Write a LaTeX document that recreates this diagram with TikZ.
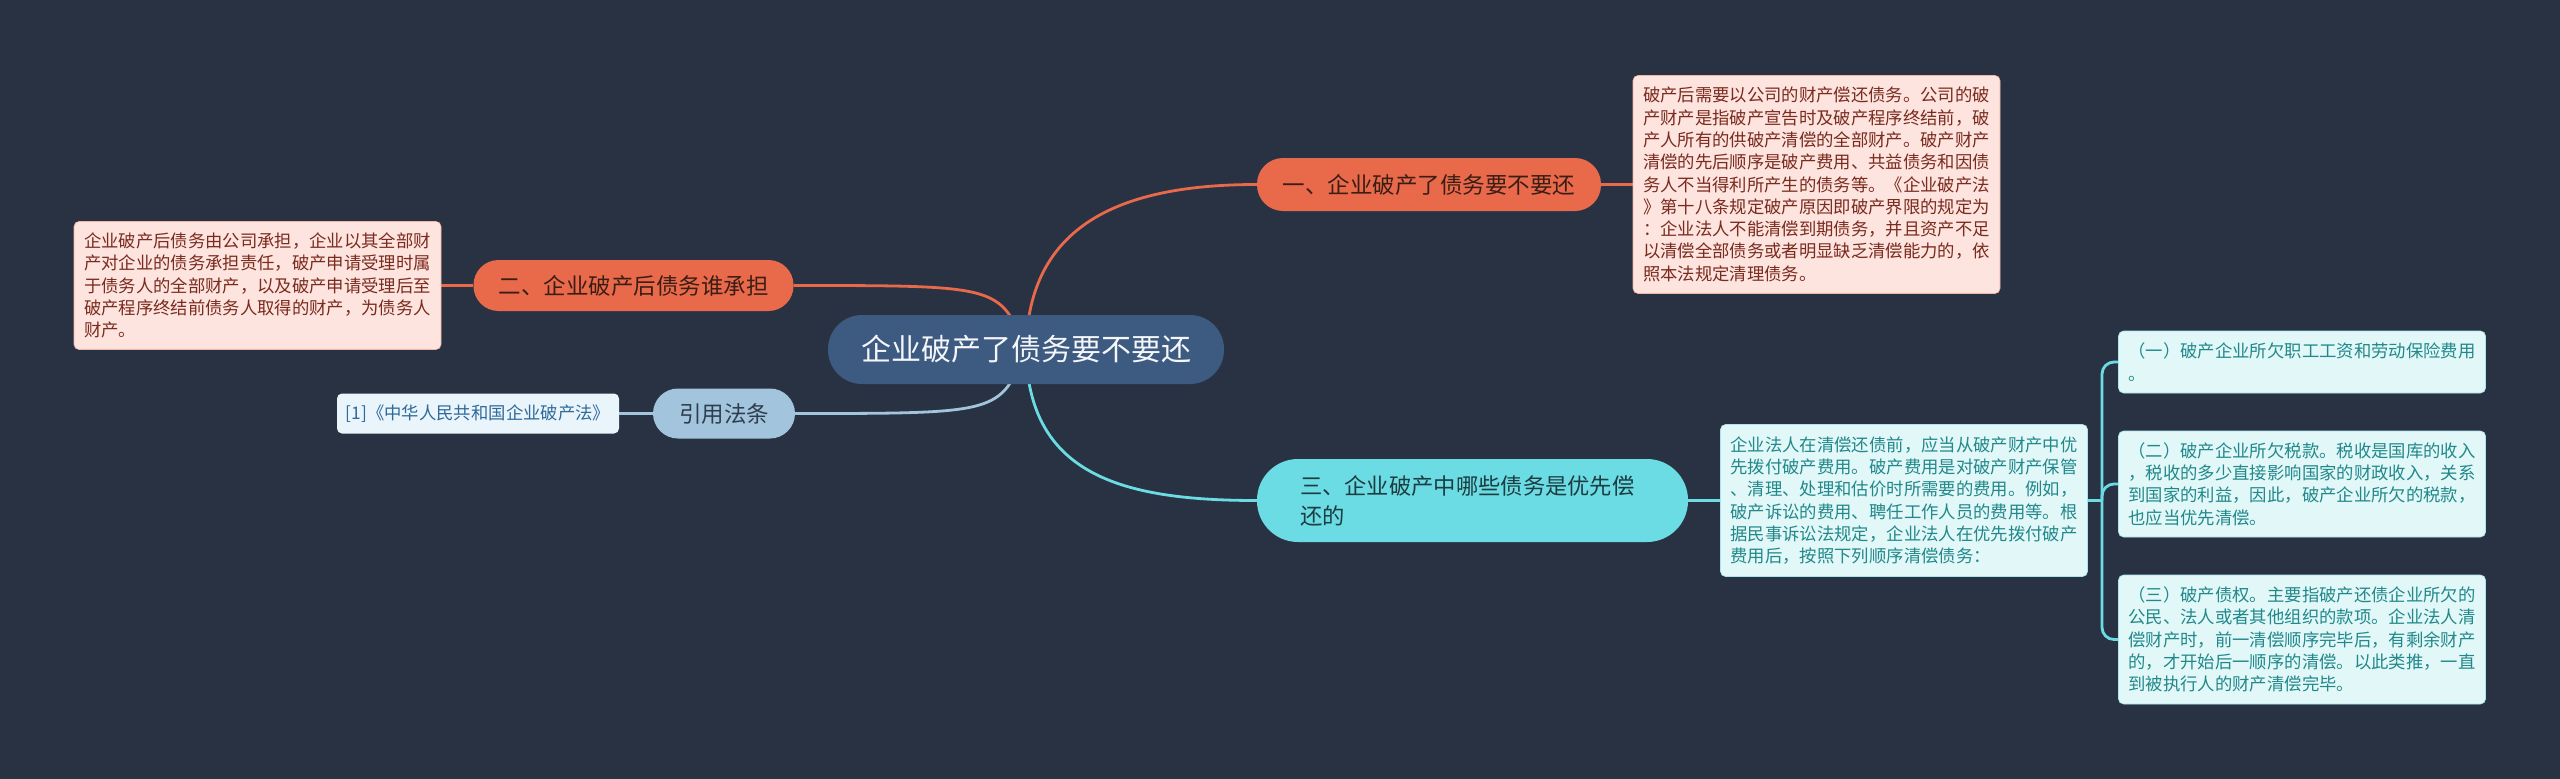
\documentclass[tikz,border=0pt]{standalone}
\usepackage{fontspec}
\setmainfont{Noto Sans CJK SC}
\usetikzlibrary{calc}
\definecolor{bgc}{HTML}{283243}
\definecolor{rootfill}{HTML}{3D5A80}
\definecolor{roottext}{HTML}{F4F6F9}
\definecolor{orangec}{HTML}{E9694B}
\definecolor{orangetext}{HTML}{3A1D14}
\definecolor{pinkfill}{HTML}{FDE4DE}
\definecolor{pinkdraw}{HTML}{F2B4A4}
\definecolor{pinktext}{HTML}{7A2A1E}
\definecolor{cyanc}{HTML}{6BDCE3}
\definecolor{cyantext}{HTML}{1C3D42}
\definecolor{lcyanfill}{HTML}{E1F7F8}
\definecolor{lcyandraw}{HTML}{A8E6EA}
\definecolor{lcyantext}{HTML}{22888A}
\definecolor{refc}{HTML}{A3C4DD}
\definecolor{reftext}{HTML}{2F3E4E}
\definecolor{refboxfill}{HTML}{EAF4FB}
\definecolor{refboxtext}{HTML}{2D6A9A}
\pgfdeclarelayer{bglayer}
\pgfdeclarelayer{edgelayer}
\pgfsetlayers{bglayer,edgelayer,main}
\begin{document}
\begin{tikzpicture}[x=1pt,y=-1pt,
  pill/.style={anchor=center, inner sep=0pt, align=center},
  boxtext/.style={font=\fontsize{17.35}{22.3}\selectfont},
  box/.style={boxtext, rounded corners=5pt, inner xsep=10pt, inner ysep=0pt,
    text width=347pt, align=left, anchor=center, line width=0.6pt},
  pinkbox/.style={box, fill=pinkfill, draw=pinkdraw, text=pinktext},
  cyanbox/.style={box, fill=lcyanfill, draw=lcyandraw, text=lcyantext},
  orangeedge/.style={draw=orangec, line width=2.8pt},
  cyanedge/.style={draw=cyanc, line width=2.8pt},
  refedge/.style={draw=refc, line width=2.8pt},
]
\useasboundingbox (0,0) rectangle (2560,779);
\begin{pgfonlayer}{bglayer}
\fill[bgc] (0,0) rectangle (2560,779);
\end{pgfonlayer}

% root
\node[pill, fill=rootfill, text=roottext, rounded corners=34pt,
  minimum width=396pt, minimum height=69pt,
  font=\fontsize{30}{36}\selectfont] (root) at (1026,349.5) {企业破产了债务要不要还};

% branch nodes
\node[pill, fill=orangec, text=orangetext, rounded corners=26pt,
  minimum width=344pt, minimum height=53pt,
  font=\fontsize{22.5}{27}\selectfont] (b1) at (1429,184.5) {一、企业破产了债务要不要还};
\node[pill, fill=orangec, text=orangetext, rounded corners=25pt,
  minimum width=320pt, minimum height=51pt,
  font=\fontsize{22.5}{27}\selectfont] (b2) at (633.5,285.5) {二、企业破产后债务谁承担};
\node[pill, fill=refc, text=reftext, rounded corners=25pt,
  minimum width=142pt, minimum height=50pt,
  font=\fontsize{22.5}{27}\selectfont] (ref) at (724,413.5) {引用法条};
\node[anchor=center, fill=cyanc, text=cyantext, rounded corners=41pt,
  minimum width=431pt, minimum height=83pt, inner xsep=43pt, inner ysep=0pt,
  text width=345pt, align=left,
  font=\fontsize{22.3}{30}\selectfont] (b3) at (1472.5,500.5) {三、企业破产中哪些债务是优先偿\\还的};

% text boxes
\node[pinkbox, minimum height=218pt] (box1) at (1816.5,184.5) {破产后需要以公司的财产偿还债务。公司的破\\产财产是指破产宣告时及破产程序终结前，破\\产人所有的供破产清偿的全部财产。破产财产\\清偿的先后顺序是破产费用、共益债务和因债\\务人不当得利所产生的债务等。《企业破产法\\》第十八条规定破产原因即破产界限的规定为\\：企业法人不能清偿到期债务，并且资产不足\\以清偿全部债务或者明显缺乏清偿能力的，依\\照本法规定清理债务。};
\node[pinkbox, minimum height=128pt] (box2) at (257.5,285.5) {企业破产后债务由公司承担，企业以其全部财\\产对企业的债务承担责任，破产申请受理时属\\于债务人的全部财产，以及破产申请受理后至\\破产程序终结前债务人取得的财产，为债务人\\财产。};
\node[boxtext, anchor=center, fill=refboxfill, text=refboxtext, rounded corners=5pt,
  minimum width=282pt, minimum height=40pt, inner sep=0pt] (refbox) at (478,413.5) {[1]《中华人民共和国企业破产法》};
\node[cyanbox, minimum height=152pt] (box3) at (1904,500.5) {企业法人在清偿还债前，应当从破产财产中优\\先拨付破产费用。破产费用是对破产财产保管\\、清理、处理和估价时所需要的费用。例如，\\破产诉讼的费用、聘任工作人员的费用等。根\\据民事诉讼法规定，企业法人在优先拨付破产\\费用后，按照下列顺序清偿债务：};
\node[cyanbox, minimum height=62pt] (sub1) at (2302,362) {（一）破产企业所欠职工工资和劳动保险费用\\。};
\node[cyanbox, minimum height=106pt] (sub2) at (2302,484) {（二）破产企业所欠税款。税收是国库的收入\\，税收的多少直接影响国家的财政收入，关系\\到国家的利益，因此，破产企业所欠的税款，\\也应当优先清偿。};
\node[cyanbox, minimum height=129pt] (sub3) at (2302,639.5) {（三）破产债权。主要指破产还债企业所欠的\\公民、法人或者其他组织的款项。企业法人清\\偿财产时，前一清偿顺序完毕后，有剩余财产\\的，才开始后一顺序的清偿。以此类推，一直\\到被执行人的财产清偿完毕。};

\coordinate (brk) at (2102,500.5);

\begin{pgfonlayer}{edgelayer}
\draw[orangeedge] (root.center) .. controls ($(root.center)+(2,-124.5)$) and ($(b1.west)+(-137,0)$) .. (b1.west);
\draw[orangeedge] (root.center) .. controls ($(root.center |- b2.east)+(-26,0)$) .. (b2.east);
\draw[refedge] (root.center) .. controls ($(root.center |- ref.east)+(-26,0)$) .. (ref.east);
\draw[cyanedge] (root.center) .. controls ($(root.center)+(2,124.5)$) and ($(b3.west)+(-137,0)$) .. (b3.west);
\draw[orangeedge] (b1.east) -- (box1.west);
\draw[orangeedge] (b2.west) -- (box2.east);
\draw[refedge] (ref.west) -- (refbox.east);
\draw[cyanedge] (b3.east) -- (box3.west);
\draw[cyanedge] (box3.east) -- (brk);
\draw[cyanedge, rounded corners=12pt] (brk) |- (sub1.west);
\draw[cyanedge, rounded corners=12pt] (brk) |- (sub2.west);
\draw[cyanedge, rounded corners=12pt] (brk) |- (sub3.west);
\end{pgfonlayer}
\end{tikzpicture}
\end{document}
